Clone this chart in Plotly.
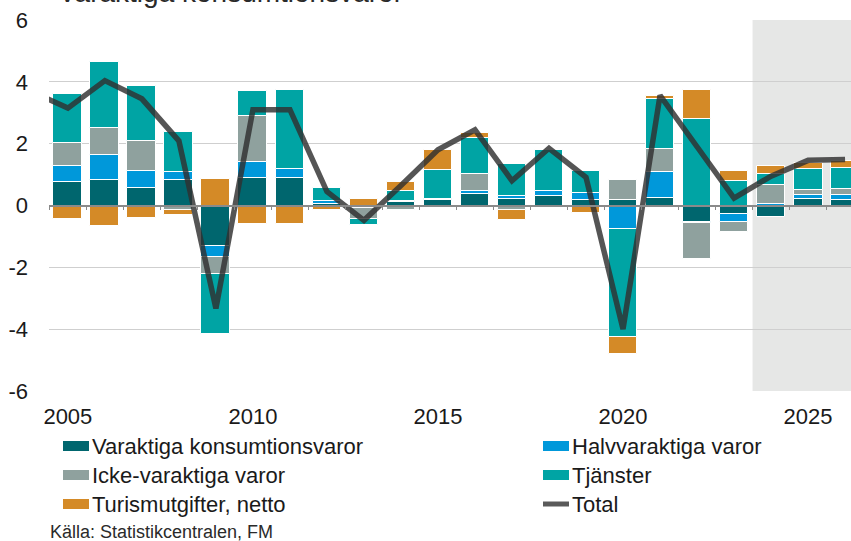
import plotly.graph_objects as go

# ---------------- data ----------------
years = list(range(2005, 2027))
varaktiga = [0.75, 0.83, 0.56, 0.82, -1.30, 0.88, 0.88, 0.05, -0.08, 0.10, 0.18,
             0.37, 0.20, 0.31, 0.19, 0.19, 0.23, -0.54, -0.28, -0.38, 0.22, 0.19]
halvvaraktiga = [0.54, 0.79, 0.56, 0.27, -0.38, 0.52, 0.29, 0.08, 0.00, 0.03, 0.03,
                 0.10, 0.12, 0.15, 0.20, -0.77, 0.84, -0.04, -0.25, 0.05, 0.13, 0.14]
icke_varaktiga = [0.72, 0.90, 0.97, -0.16, -0.55, 1.51, -0.06, 0.00, -0.37, -0.16, 0.00,
                  0.55, -0.16, 0.00, 0.00, 0.64, 0.75, -1.14, -0.32, 0.62, 0.15, 0.22]
tjanster = [1.59, 2.12, 1.77, 1.30, -1.93, 0.78, 2.56, 0.43, -0.18, 0.35, 0.95,
            1.16, 1.03, 1.35, 0.71, -3.48, 1.62, 2.81, 0.78, 0.36, 0.68, 0.67]
turism = [-0.43, -0.65, -0.41, -0.14, 0.86, -0.59, -0.54, -0.13, 0.22, 0.28, 0.64,
          0.18, -0.32, 0.00, -0.23, -0.55, 0.11, 0.91, 0.34, 0.26, 0.20, 0.23]
total_years = list(range(2004, 2027))
total = [3.69, 3.15, 4.04, 3.45, 2.09, -3.33, 3.10, 3.10, 0.45, -0.48, 0.65, 1.80,
         2.45, 0.80, 1.85, 0.91, -4.00, 3.56, 1.90, 0.24, 0.95, 1.46, 1.49]

series_names = ["Varaktiga konsumtionsvaror", "Halvvaraktiga varor",
                "Icke-varaktiga varor", "Tjänster", "Turismutgifter, netto"]
series_values = [varaktiga, halvvaraktiga, icke_varaktiga, tjanster, turism]
total_name = "Total"
y_ticks = [-6, -4, -2, 0, 2, 4, 6]
x_ticks = [2005, 2010, 2015, 2020, 2025]
forecast_start = 2024
title_text = "Varaktiga konsumtionsvaror"
source_text = "Källa: Statistikcentralen, FM"

# ---------------- style ----------------
colors = ["#00666E", "#0098DA", "#8FA19E", "#00A4A4", "#D48A27"]
line_color = "rgba(48,48,48,0.82)"
FONT = "Liberation Sans, Arial, sans-serif"
W, H = 851, 541
ML, MR, MT, MB = 49, 0, 20, 150
PW, PH = W - ML - MR, H - MT - MB
x_range = [2004.49, 2026.16]


def px(xp):
    return (xp - ML) / PW


def py(yp):
    return (H - MB - yp) / PH


fig = go.Figure()
for name, vals, col in zip(series_names, series_values, colors):
    fig.add_trace(go.Bar(x=years, y=vals, name=name, marker_color=col,
                         marker_line=dict(color="white", width=1),
                         width=0.78, showlegend=False))
fig.add_trace(go.Scatter(x=total_years, y=total, name=total_name, mode="lines",
                         line=dict(color=line_color, width=5.5), showlegend=False))
# dummy trace so the zero-line axis is drawn
fig.add_trace(go.Scatter(x=[None], y=[None], xaxis="x2", showlegend=False,
                         hoverinfo="skip"))

shapes = [dict(type="rect", xref="x", yref="paper", x0=forecast_start - 0.5,
               x1=x_range[1] + 1, y0=0, y1=1, fillcolor="#E6E7E6",
               line_width=0, layer="below")]
annotations = []

# manual legend
legend_rows = [446, 475, 504]
legend_cols = [(63, 89), (543, 569)]
entries = list(zip(series_names, colors)) + [(total_name, None)]
for i, (name, col) in enumerate(entries):
    r, c = divmod(i, 2)
    yc = legend_rows[r]
    x0, x1 = legend_cols[c]
    if col is None:
        shapes.append(dict(type="line", xref="paper", yref="paper",
                           x0=px(x0), x1=px(x1), y0=py(yc), y1=py(yc),
                           line=dict(color="#5A5A5A", width=5)))
    else:
        shapes.append(dict(type="rect", xref="paper", yref="paper",
                           x0=px(x0), x1=px(x1), y0=py(yc - 5), y1=py(yc + 5),
                           fillcolor=col, line_width=0))
    annotations.append(dict(text=name, xref="paper", yref="paper",
                            x=px(x1 + 1), y=py(yc), xanchor="left",
                            yanchor="middle", showarrow=False,
                            font=dict(size=22, color="#1A1A1A", family=FONT)))

annotations.append(dict(text=source_text, xref="paper", yref="paper",
                        x=px(48), y=py(532), xanchor="left", yanchor="middle",
                        showarrow=False,
                        font=dict(size=18, color="#2A2A2A", family=FONT)))
annotations.append(dict(text=title_text, xref="paper", yref="paper",
                        x=px(56), y=1, xanchor="left", yanchor="bottom",
                        yshift=10, showarrow=False,
                        font=dict(size=28, color="#2A2A2A", family=FONT)))

fig.update_layout(
    width=W, height=H,
    margin=dict(l=ML, r=MR, t=MT, b=MB, pad=0),
    paper_bgcolor="white", plot_bgcolor="white",
    barmode="relative", bargap=0,
    font=dict(family=FONT, size=22, color="#1A1A1A"),
    showlegend=False,
    shapes=shapes, annotations=annotations,
    xaxis=dict(range=x_range, tickmode="array", tickvals=x_ticks,
               ticktext=[str(v) for v in x_ticks], showgrid=False,
               zeroline=False, showline=False, ticks="",
               ticklabelstandoff=10, tickfont=dict(size=22)),
    xaxis2=dict(range=x_range, overlaying="x", anchor="free", position=0.5,
                side="bottom", showline=True, linecolor="#8A8A8A", linewidth=1.5,
                tickmode="array",
                tickvals=[y + 0.5 for y in [years[0] - 1] + years],
                ticks="outside", ticklen=4, tickwidth=1, tickcolor="#8A8A8A",
                showticklabels=False, showgrid=False, zeroline=False),
    yaxis=dict(range=[-6, 6], tickmode="array", tickvals=y_ticks,
               ticktext=[str(v) for v in y_ticks], showgrid=True,
               gridcolor="#CFCFCF", gridwidth=1, zeroline=False,
               showline=False, ticks="", ticklabelstandoff=20,
               tickfont=dict(size=22)),
)

fig.write_html("out.html",
               config={"displayModeBar": False},
               post_script="document.body.style.margin='0';"
                           "document.body.style.overflow='hidden';")
